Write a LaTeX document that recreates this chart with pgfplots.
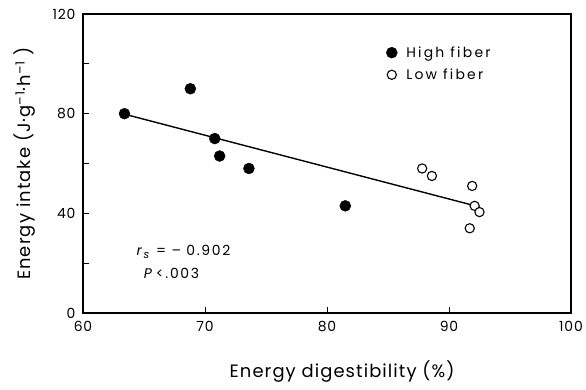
\documentclass[border=0pt]{standalone}
\usepackage{pgfplots}
\pgfplotsset{compat=1.18}
\usepackage{fontspec}
\setmainfont{Poppins}[LetterSpace=6]
\begin{document}
\begin{tikzpicture}
\useasboundingbox (-83bp,-77bp) rectangle (503bp,313bp);
\begin{axis}[
  scale only axis, width=488bp, height=299bp,
  xmin=60, xmax=100, ymin=0, ymax=120,
  xtick={60,70,80,90,100}, ytick={0,40,80,120}, minor ytick={20,60,100},
  tick pos=left, tick align=inside,
  major tick length=6bp, minor tick length=6bp,
  axis line style={line width=1.2pt},
  every tick/.style={line width=1pt, black},
  /pgf/number format/assume math mode=true,
  ticklabel style={font=\fontsize{14}{14}\selectfont},
  xticklabel style={yshift=-5bp},
  yticklabel style={xshift=-4bp},
  xlabel={Energy digestibility (\%)},
  ylabel={Energy intake (J·g\textsuperscript{–1}·h\textsuperscript{–1} )},
  label style={font=\fontsize{18}{18}\selectfont},
  xlabel style={at={(axis description cs:0.531,-0.197)}, anchor=center},
  ylabel style={at={(axis description cs:-0.119,0.5)}, anchor=center},
  legend style={draw=none, fill=none, at={(axis description cs:0.615,0.905)}, anchor=north west, font=\fontsize{14}{14}\selectfont\addfontfeatures{LetterSpace=16}, row sep=6bp},
  legend cell align=left,
  clip=false,
]
\addplot[black, line width=1.4pt, forget plot] coordinates {(63.4,79.8) (92.0,43.2)};
\addplot[only marks, mark=*, mark size=5.5bp, black] coordinates {
 (63.4,80) (68.8,90) (70.8,70) (71.2,63) (73.6,58) (81.5,43)};
\addlegendentry{\hspace{7bp}High fiber}
\addplot[only marks, mark=*, mark size=4.6bp, mark options={fill=white, draw=black, line width=1.1pt}] coordinates {
 (87.8,58) (88.6,55) (91.9,51) (92.1,43) (92.5,40.5) (91.7,34)};
\addlegendentry{\hspace{7bp}Low fiber}
\node[anchor=west, font=\fontsize{14}{14}\selectfont\addfontfeatures{LetterSpace=12}] at (axis cs:64.1,24.5) {\textit{r}\raisebox{-3bp}{\fontsize{11}{11}\selectfont\textit{s}} = – 0.902};
\node[anchor=west, font=\fontsize{14}{14}\selectfont\addfontfeatures{LetterSpace=12}] at (axis cs:64.7,16) {\textit{P}\,<.003};
\end{axis}
\end{tikzpicture}
\end{document}
